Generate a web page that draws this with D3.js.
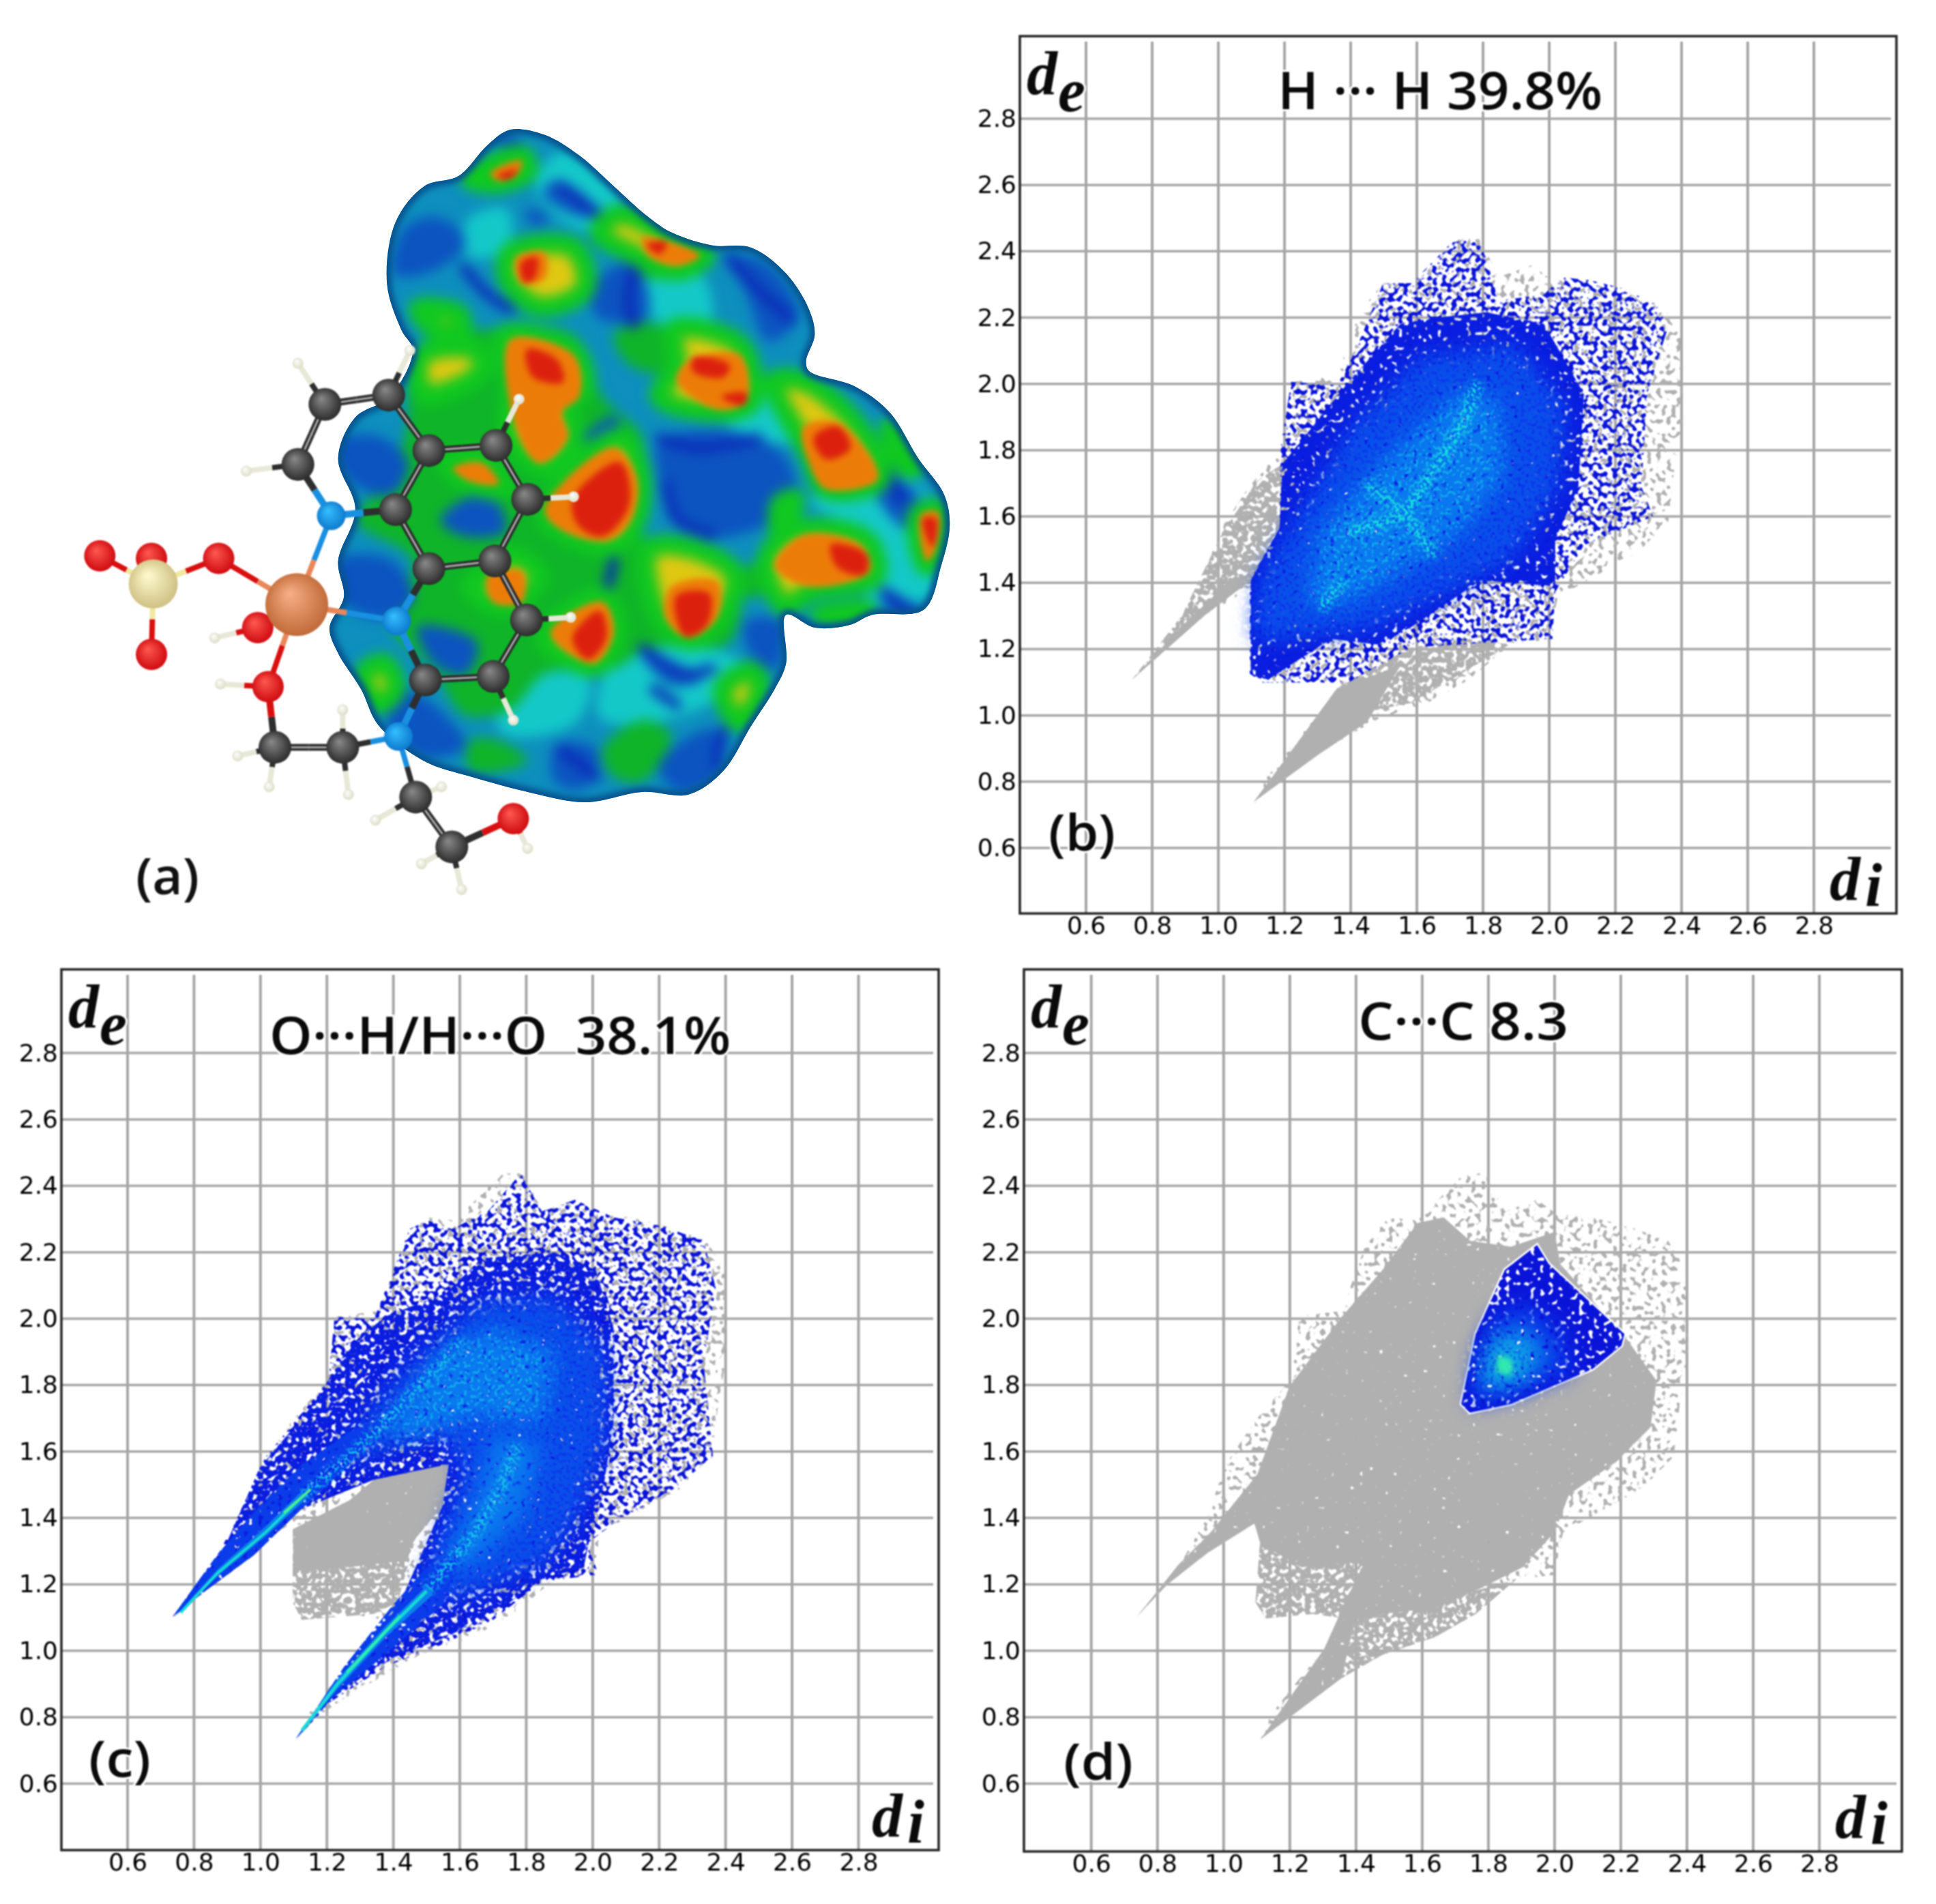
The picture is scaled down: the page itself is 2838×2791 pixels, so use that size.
<!DOCTYPE html>
<html><head><meta charset="utf-8">
<script src="https://cdn.jsdelivr.net/npm/d3@7"></script>
<style>html,body{margin:0;background:#fff}svg{display:block}</style></head>
<body><svg id="c" width="2838" height="2791" xmlns="http://www.w3.org/2000/svg"></svg>
<script>
// ---------- fingerprint data, (di, de) ----------
const tickValues=[0.6,0.8,1.0,1.2,1.4,1.6,1.8,2.0,2.2,2.4,2.6,2.8];
const fullOutline=[[.737,1.102],[.864,1.251],[.952,1.409],[1.005,1.559],[1.093,1.69],[1.199,1.813],[1.229,2.006],[1.357,2.024],[1.427,2.217],[1.498,2.305],[1.586,2.296],[1.727,2.437],[1.788,2.437],[1.85,2.323],[1.947,2.358],[2.008,2.314],[2.114,2.305],[2.22,2.279],[2.343,2.235],[2.396,2.147],[2.405,1.901],[2.378,1.743],[2.36,1.585],[2.264,1.488],[2.167,1.436],[2.026,1.357],[2.0,1.234],[2.017,1.23],[1.885,1.216],[1.762,1.111],[1.639,1.041],[1.48,.988],[1.357,.918],[1.251,.856],[1.163,.795],[1.111,.733],[1.146,.812],[1.216,.9],[1.304,1.006],[1.375,1.093],[1.269,1.111],[1.128,1.097],[1.096,1.146],[1.111,1.339],[1.093,1.383],[.952,1.295],[.829,1.199]];
const dSolid=[[.737,1.102],[.864,1.26],[.961,1.357],[1.102,1.532],[1.199,1.796],[1.357,2.006],[1.48,2.147],[1.586,2.288],[1.665,2.305],[1.744,2.235],[1.868,2.217],[2.0,2.261],[2.017,2.165],[2.22,1.936],[2.308,1.813],[2.29,1.673],[2.185,1.568],[2.044,1.471],[2.0,1.357],[1.903,1.251],[1.762,1.181],[1.639,1.129],[1.48,1.111],[1.392,1.076],[1.357,.918],[1.111,.733],[1.304,1.006],[1.375,1.164],[1.427,1.269],[1.234,1.251],[1.111,1.322],[1.093,1.383],[.952,1.295],[.829,1.199]];
const dMediumA=[[1.111,1.339],[1.427,1.269],[1.392,1.093],[1.269,1.111],[1.128,1.097],[1.096,1.146]];
const dMediumB=[[1.392,1.076],[1.48,1.111],[1.762,1.181],[1.885,1.216],[1.762,1.111],[1.639,1.041],[1.48,.988],[1.357,.918]];
const triOutline=[[1.947,2.222],[1.982,2.165],[2.211,1.954],[2.202,1.919],[2.114,1.848],[1.868,1.743],[1.744,1.717],[1.718,1.743],[1.762,1.954],[1.85,2.147]];
const triDeep=[[1.744,1.735],[1.885,1.77],[2.06,1.84],[2.026,1.971],[1.903,2.06],[1.815,2.007],[1.762,1.9]];
const triMid=[[1.78,1.787],[1.92,1.813],[1.99,1.9],[1.903,1.989],[1.815,1.936]];
const triCore=[[1.79,1.80],[1.885,1.81],[1.93,1.9],[1.85,1.95],[1.80,1.9]];
const triHot=[[1.824,1.84],[1.871,1.828],[1.871,1.875],[1.829,1.892]];

const bTailLeft=[[.739,1.108],[.89,1.302],[1.011,1.548],[1.116,1.706],[1.194,1.759],[1.194,1.583],[1.098,1.407],[.959,1.302]];
const bTailLeftSolid=[[.739,1.108],[.89,1.27],[1.05,1.42],[1.098,1.407],[.959,1.302]];
const bTailBottom=[[1.107,.739],[1.411,1.003],[1.584,1.038],[1.793,1.161],[1.88,1.214],[1.758,1.231],[1.584,1.205],[1.498,1.161],[1.359,1.082],[1.237,.915]];
const bTailBottomSolid=[[1.107,.739],[1.3,.88],[1.45,.98],[1.55,1.15],[1.359,1.082],[1.237,.915]];
const bSparse=[[1.22,2.006],[1.359,1.996],[1.411,2.093],[1.498,2.304],[1.584,2.304],[1.706,2.427],[1.784,2.436],[1.819,2.357],[1.845,2.251],[1.984,2.269],[2.036,2.322],[2.123,2.313],[2.227,2.287],[2.331,2.234],[2.357,2.164],[2.296,1.97],[2.279,1.689],[2.314,1.6],[2.105,1.513],[2.018,1.372],[2.01,1.231],[1.584,1.205],[1.393,1.099],[1.133,1.099],[1.095,1.126],[1.095,1.407],[1.185,1.565],[1.189,1.812]];
const bMedium=[[1.098,1.124],[1.098,1.407],[1.185,1.565],[1.194,1.759],[1.393,2.005],[1.55,2.181],[1.654,2.199],[1.81,2.216],[1.984,2.181],[2.105,1.97],[2.088,1.689],[2.018,1.53],[2.018,1.39],[1.793,1.407],[1.584,1.267],[1.48,1.214],[1.341,1.231],[1.15,1.108]];
const bDense=[[1.116,1.231],[1.133,1.407],[1.272,1.636],[1.411,1.864],[1.619,2.075],[1.897,2.11],[2.036,1.935],[2.018,1.689],[1.88,1.478],[1.671,1.372],[1.446,1.267],[1.237,1.249]];
const bMid=[[1.272,1.337],[1.307,1.548],[1.498,1.759],[1.723,1.97],[1.845,1.952],[1.862,1.724],[1.723,1.548],[1.498,1.407],[1.359,1.337]];
const bStreakA=[[1.307,1.32],[1.376,1.407]];
const bStreakB=[[1.393,1.548],[1.567,1.61],[1.654,1.741],[1.741,1.882],[1.784,2.005]];
const bStreakC=[[1.446,1.706],[1.584,1.583],[1.654,1.477]];

const cIsland=[[1.097,1.366],[1.268,1.453],[1.341,1.515],[1.485,1.55],[1.567,1.562],[1.548,1.436],[1.467,1.339],[1.413,1.146],[1.341,1.111],[1.124,1.093],[1.097,1.146]];
const cIslandSolid=[[1.097,1.366],[1.268,1.453],[1.341,1.515],[1.485,1.55],[1.567,1.562],[1.548,1.436],[1.467,1.339],[1.43,1.27],[1.25,1.25],[1.1,1.24]];
const cSparse=[[.735,1.102],[.871,1.287],[.934,1.409],[1.016,1.585],[1.205,1.813],[1.223,2.006],[1.341,1.998],[1.449,2.27],[1.503,2.296],[1.576,2.27],[1.684,2.323],[1.783,2.437],[1.847,2.323],[1.946,2.358],[2.063,2.305],[2.208,2.279],[2.334,2.235],[2.37,2.094],[2.334,1.866],[2.362,1.585],[2.244,1.488],[2.063,1.383],[1.982,1.322],[2.018,1.23],[1.847,1.208],[1.702,1.094],[1.558,1.023],[1.377,.953],[1.214,.848],[1.106,.733],[1.268,.935],[1.413,1.129],[1.548,1.436],[1.567,1.562],[1.341,1.515],[1.124,1.427],[.979,1.287],[.835,1.181]];
const cMedium=[[.735,1.102],[.889,1.304],[.997,1.55],[1.16,1.743],[1.268,1.919],[1.377,2.007],[1.558,2.077],[1.666,2.182],[1.883,2.2],[2.009,2.147],[2.063,1.971],[2.063,1.69],[2.036,1.515],[1.991,1.339],[1.973,1.251],[1.847,1.216],[1.702,1.111],[1.558,1.041],[1.377,.971],[1.214,.856],[1.106,.733],[1.268,.935],[1.413,1.129],[1.548,1.436],[1.567,1.562],[1.341,1.515],[1.124,1.427],[.979,1.287],[.835,1.181]];
const cDense=[[1.232,1.568],[1.431,1.831],[1.666,2.042],[1.883,2.059],[2.027,1.901],[2.027,1.638],[1.955,1.427],[1.847,1.269],[1.63,1.181],[1.485,1.164],[1.576,1.41],[1.63,1.55],[1.521,1.69],[1.377,1.62]];
const cMidA=[[1.558,1.269],[1.648,1.462],[1.702,1.655],[1.847,1.62],[1.792,1.41],[1.63,1.251]];
const cMidB=[[1.377,1.655],[1.558,1.901],[1.702,1.971],[1.883,1.901],[1.847,1.69],[1.63,1.708],[1.449,1.638]];
const cWedgeLeft=[[.735,1.102],[.87,1.29],[1.0,1.44],[1.124,1.56],[1.268,1.66],[1.377,1.70],[1.268,1.56],[1.124,1.427],[.979,1.287],[.835,1.181]];
const cWedgeBottom=[[1.106,.733],[1.25,.95],[1.40,1.14],[1.5,1.25],[1.6,1.28],[1.55,1.14],[1.377,.99],[1.214,.856]];
const cTipLeftEdge=[[.74,1.10],[.871,1.245],[1.016,1.375],[1.124,1.48],[1.14,1.46],[1.016,1.345],[.871,1.225]];
const cTipBottomEdge=[[1.105,.735],[1.232,.915],[1.377,1.075],[1.5,1.195],[1.52,1.17],[1.377,1.04],[1.232,.885]];
const cUpperLeft=[[1.124,1.462],[1.268,1.585],[1.377,1.69],[1.558,1.884],[1.612,1.936]];
const cUpperBottom=[[1.5,1.18],[1.648,1.357],[1.72,1.48],[1.774,1.62]];
const cCoreLeft=[[.76,1.115],[.871,1.234],[1.016,1.357],[1.124,1.462]];
const cCoreBottom=[[1.125,.76],[1.232,.9],[1.377,1.058],[1.5,1.18]];
const cHotLeft=[[1.07,1.415],[1.15,1.485]];
const cHotBottom=[[1.26,.935],[1.42,1.105]];

// ---------- surface picture (a), coordinates on a 0..1568 drawing grid ----------
const surfaceOutline=[[770,40],[830,50],[890,90],[950,150],[1010,210],[1050,240],[1120,265],[1190,270],[1250,320],[1290,390],[1300,440],[1285,490],[1290,510],[1370,540],[1430,590],[1480,680],[1525,750],[1535,810],[1520,890],[1490,975],[1400,985],[1360,1005],[1300,1010],[1250,985],[1250,1080],[1230,1130],[1190,1200],[1140,1290],[1080,1335],[1000,1330],[900,1350],[800,1330],[700,1300],[620,1270],[540,1200],[510,1130],[470,1060],[455,1010],[480,950],[470,880],[500,780],[470,680],[500,600],[560,560],[600,470],[580,430],[555,340],[570,220],[620,150],[680,130],[730,70]];
const cyanZones=[[[700,220],[760,200],[760,270],[700,280]],[[1000,300],[1100,330],[1110,430],[1030,410]],[[1300,760],[1400,720],[1480,740],[1500,940],[1400,950],[1390,830]],[[820,880],[930,880],[980,950],[930,930]],[[960,1070],[1130,1060],[1180,1100],[1050,1180],[930,1180]],[[860,90],[960,190],[900,230],[820,150]],[[1140,560],[1260,540],[1280,640],[1150,610]],[[760,1130],[900,1110],[880,1190],[760,1210]],[[660,560],[750,540],[760,590],[680,610]]];
const greenZones=[[[600,470],[720,430],[880,440],[930,560],[1000,640],[1000,830],[1130,880],[1170,920],[1150,1040],[1010,1050],[950,1090],[830,1100],[770,1170],[690,1180],[640,1100],[560,1000],[600,880],[500,800],[560,720],[590,620]],[[950,440],[1000,415],[1055,440],[1050,510],[980,500]],[[930,1250],[1000,1190],[1050,1220],[1000,1310],[950,1300]],[[700,1230],[750,1230],[800,1270],[700,1290]],[[1030,200],[1110,290],[1010,330],[930,200]],[[1160,910],[1220,880],[1215,940],[1170,950]]];
const blueZones=[[[590,230],[650,215],[690,260],[640,310],[570,320]],[[740,50],[790,60],[770,75]],[[850,140],[920,200],[900,210],[830,165]],[[800,195],[835,215],[810,225]],[[920,340],[980,300],[1010,370],[1000,410],[920,400]],[[1150,290],[1210,300],[1270,400],[1220,450],[1180,350]],[[1030,650],[1150,630],[1240,670],[1265,760],[1210,810],[1100,830],[1050,770]],[[470,650],[540,640],[590,690],[560,750],[490,720]],[[470,880],[560,880],[600,950],[560,990],[480,960]],[[650,800],[730,750],[760,820],[690,830]],[[610,1010],[710,1040],[690,1100],[640,1080]],[[570,1130],[620,1150],[690,1240],[620,1260],[560,1200]],[[850,1240],[920,1250],[900,1320],[850,1310]],[[1030,1280],[1120,1210],[1130,1290],[1070,1330]],[[1400,720],[1470,740],[1490,830],[1440,800]],[[1420,950],[1480,980],[1440,985]],[[1180,1000],[1240,1000],[1230,1090],[1190,1060]],[[890,650],[950,600],[960,640],[910,640]],[[1000,1060],[1100,1110],[1050,1120]]];
const blueStreaks=[[[690,310],[730,360],[770,390]],[[990,300],[975,370],[985,420]],[[1150,290],[1200,350],[1260,410]],[[860,150],[930,210]],[[1040,730],[1060,800],[1120,830]],[[1030,640],[1100,660],[1200,640]],[[950,880],[940,930]],[[1000,1050],[1080,1100],[1120,1090]],[[1020,1130],[1060,1160]],[[1140,1210],[1130,1280]],[[860,1250],[920,1300]],[[1420,680],[1450,760]],[[1420,940],[1470,975]]];
const yellowZones=[[[700,135],[790,90],[800,120],[750,145]],[[770,280],[880,270],[900,350],[820,385],[765,330]],[[925,240],[960,205],[1050,250],[1110,285],[1060,315],[980,280]],[[610,390],[680,400],[685,435],[640,430]],[[615,480],[710,470],[720,510],[620,555]],[[760,440],[880,470],[900,540],[870,580],[880,640],[830,700],[770,640],[770,540]],[[830,790],[960,640],[995,700],[990,800],[950,850],[870,830]],[[1055,430],[1170,460],[1190,570],[1130,590],[1030,560],[1060,500]],[[1230,530],[1280,530],[1370,610],[1415,720],[1320,740],[1290,670]],[[1430,620],[1480,690],[1460,700]],[[1480,790],[1520,780],[1515,860],[1495,890]],[[1215,880],[1270,820],[1390,840],[1405,910],[1290,940],[1250,970]],[[1010,860],[1060,850],[1160,905],[1130,1000],[1080,1035],[1030,990]],[[830,1030],[930,950],[955,1020],[920,1085],[870,1070]],[[1140,1130],[1190,1095],[1205,1120],[1170,1195]],[[515,1100],[550,1080],[570,1130],[540,1160]],[[1240,770],[1265,760],[1240,830]],[[660,690],[720,680],[760,740],[700,730]],[[740,900],[770,870],[820,910],[760,970],[700,930]],[[1310,985],[1390,975],[1370,990]]];
const orangeZones=[[[770,450],[880,480],[890,560],[860,590],[870,640],[820,690],[780,620]],[[830,780],[950,660],[990,720],[980,800],[940,840],[860,820]],[[1280,620],[1340,610],[1410,720],[1320,740],[1290,690]],[[1230,890],[1280,830],[1380,850],[1395,900],[1290,930]],[[1050,930],[1130,920],[1130,990],[1080,1030],[1040,990]],[[840,1020],[930,960],[950,1020],[915,1080]],[[1080,490],[1170,480],[1180,570],[1130,585],[1060,530]],[[780,290],[830,280],[830,330],[790,340]],[[1000,250],[1100,285],[1060,305],[1010,285]],[[730,910],[790,900],[790,960],[740,960]],[[670,700],[720,690],[750,730],[700,725]],[[1485,790],[1515,785],[1510,860],[1495,880]],[[735,125],[790,100],[780,130],[750,140]]];
const redZones=[[[800,470],[850,490],[860,530],[810,520]],[[880,760],[960,690],[975,770],[930,830],[890,810]],[[1300,640],[1340,620],[1360,660],[1320,680]],[[1060,950],[1115,945],[1110,1005],[1075,1025]],[[880,1030],[925,980],[935,1030],[905,1070]],[[1090,485],[1150,500],[1140,520],[1090,510]],[[790,300],[815,290],[810,330],[795,335]],[[1490,800],[1510,800],[1505,850]],[[1010,265],[1040,260],[1030,280]],[[1330,850],[1390,870],[1385,905],[1340,890]],[[1140,560],[1180,555],[1175,575]],[[750,130],[780,120],[765,135]]];
const atomX=[447,558,400,628,745,570,800,628,743,798,622,740,360,478,605,668,458,572,575,55,145,262,145,348,330,775,148,398,595,400,310,880,785,875,775,255,265,295,350,488,478,535,650,615,685,800];
const atomY=[575,557,692,665,655,780,760,895,880,995,1112,1105,1243,1243,1340,1437,792,997,1222,870,875,875,1062,1125,1010,1382,925,965,470,495,705,755,565,990,1190,1030,1120,1260,1320,1335,1170,1385,1320,1470,1520,1440];
const atomKind=["C","C","C","C","C","C","C","C","C","C","C","C","C","C","C","C","N","N","N","O","O","O","O","O","O","O","S","Cu","H","H","H","H","H","H","H","H","H","H","H","H","H","H","H","H","H","H"];
const atomBonds=[[0,1],[0,2],[1,3],[3,4],[3,5],[4,6],[5,7],[5,16],[6,8],[7,8],[7,17],[8,9],[9,11],[10,11],[10,17],[10,18],[2,16],[16,27],[17,27],[18,13],[13,12],[12,23],[23,27],[24,27],[21,27],[21,26],[19,26],[20,26],[22,26],[18,14],[14,15],[15,25],[1,28],[0,29],[2,30],[6,31],[4,32],[9,33],[11,34],[24,35],[23,36],[12,37],[12,38],[13,39],[13,40],[14,41],[14,42],[15,43],[15,44],[25,45]];

// ---------- style ----------
const kindStyle={C:{r:24,hi:"#8a8a8a",lo:"#1e1e1e",bond:"#2e2e2e"},N:{r:21,hi:"#35c0ff",lo:"#0870c8",bond:"#1a90e0"},O:{r:23,hi:"#ff5a50",lo:"#c80008",bond:"#d81010"},S:{r:36,hi:"#fffbd0",lo:"#c8b878",bond:"#f0e8a0"},Cu:{r:46,hi:"#f8b088",lo:"#b8602c",bond:"#e8875a"},H:{r:8,hi:"#ffffff",lo:"#d8d8c0",bond:"#e8e8d8"}};
const GRAY="#b0b0b0";
const svg=d3.select("#c");
svg.append("rect").attr("width",2838).attr("height",2791).attr("fill","#fff");
const defs=svg.append("defs");
function speckle(id,seed,t,blur,freq){
  const f=defs.append("filter").attr("id",id).attr("filterUnits","userSpaceOnUse").attr("x",0).attr("y",0).attr("width",2838).attr("height",2791).attr("color-interpolation-filters","sRGB");
  f.append("feTurbulence").attr("type","fractalNoise").attr("baseFrequency",freq||0.14).attr("numOctaves",1).attr("seed",seed).attr("result","n");
  f.append("feColorMatrix").attr("in","n").attr("type","matrix").attr("values",`0 0 0 0 0  0 0 0 0 0  0 0 0 0 0  16 0 0 0 ${-16*t}`).attr("result","m");
  let src="SourceGraphic";
  if(blur){f.append("feGaussianBlur").attr("in","SourceGraphic").attr("stdDeviation",blur).attr("result","s");src="s";}
  f.append("feComposite").attr("in",src).attr("in2","m").attr("operator","in");
}
speckle("spGray",3,.55);
speckle("spBlue",7,.51);
speckle("spMed",11,.42);
speckle("spFew",17,.34);
speckle("spRare",31,.23);
speckle("softDense",41,.33,14);
speckle("softMid",23,.40,18,0.2);
speckle("softLight",29,.56,16,0.2);
speckle("softCyan",37,.50,5,0.22);
function blurF(id,s){const f=defs.append("filter").attr("id",id).attr("x","-30%").attr("y","-30%").attr("width","160%").attr("height","160%").attr("color-interpolation-filters","sRGB");f.append("feGaussianBlur").attr("stdDeviation",s);}
blurF("soft",0.9);blurF("b3",3);
const fb=defs.append("filter").attr("id","patch").attr("filterUnits","userSpaceOnUse").attr("x",0).attr("y",0).attr("width",1500).attr("height",1400).attr("color-interpolation-filters","sRGB");
fb.append("feGaussianBlur").attr("stdDeviation",9);
const fb2=defs.append("filter").attr("id","patchS").attr("filterUnits","userSpaceOnUse").attr("x",0).attr("y",0).attr("width",1500).attr("height",1400).attr("color-interpolation-filters","sRGB");
fb2.append("feGaussianBlur").attr("stdDeviation",5);

// ---------- plot panels ----------
function panel(o){
  const x=d3.scaleLinear().domain([0.6,2.8]).range(o.xr);
  const y=d3.scaleLinear().domain([0.6,2.8]).range(o.yr);
  const root=svg.append("g").attr("filter","url(#soft)");
  const line=d3.line().x(d=>x(d[0])).y(d=>y(d[1]));
  const grid=root.append("g");
  grid.selectAll(".v").data(tickValues).join("line").attr("x1",d=>x(d)).attr("x2",d=>x(d)).attr("y1",o.t+8).attr("y2",o.b).attr("stroke","#a6a6a6").attr("stroke-width",4);
  grid.selectAll(".h").data(tickValues).join("line").attr("x1",o.l).attr("x2",o.r-8).attr("y1",d=>y(d)).attr("y2",d=>y(d)).attr("stroke","#a6a6a6").attr("stroke-width",3.5);
  const area=(pts,color,filter)=>{const p=root.append("path").attr("d",line(pts)+"Z").attr("fill",color);if(filter)p.attr("filter",`url(#${filter})`);return p;};
  const streak=(pts,color,w,filter)=>{const p=root.append("path").attr("d",line(pts)).attr("fill","none").attr("stroke",color).attr("stroke-width",w).attr("stroke-linecap","butt").attr("stroke-linejoin","round");if(filter)p.attr("filter",`url(#${filter})`);return p;};
  o.draw(area,streak);
  root.append("rect").attr("x",o.l).attr("y",o.t).attr("width",o.r-o.l).attr("height",o.b-o.t).attr("fill","none").attr("stroke","#222").attr("stroke-width",3.5);
  const fmt=d3.format(".1f");
  const ax=root.append("g").attr("transform",`translate(0,${o.b+3})`).call(d3.axisBottom(x).tickValues(tickValues).tickFormat(fmt).tickSize(0).tickPadding(1));
  const ay=root.append("g").attr("transform",`translate(${o.l-5},0)`).call(d3.axisLeft(y).tickValues(tickValues).tickFormat(fmt).tickSize(0).tickPadding(0));
  [ax,ay].forEach(a=>{a.select(".domain").remove();a.selectAll("text").attr("font-family","DejaVu Sans").attr("font-size",36).attr("fill","#000");});
  const lab=(s,xx,yy,fam,size,weight,style,len)=>{const t=root.append("text").attr("x",xx).attr("y",yy).attr("font-family",fam).attr("font-size",size).attr("font-weight",weight).attr("font-style",style).attr("fill","#0a0a0a").attr("stroke","#fff").attr("stroke-width",6).attr("paint-order","stroke").text(s);if(len)t.attr("textLength",len).attr("lengthAdjust","spacingAndGlyphs");return t;};
  const SER="Liberation Serif",SAN="Open Sans";
  lab("d",o.l+10,o.t+85,SER,90,700,"italic");
  lab("e",o.l+56,o.t+110,SER,90,700,"italic");
  lab("d",o.r-98,o.b-20,SER,90,700,"italic");
  lab("i",o.r-46,o.b-11,SER,90,700,"italic");
  lab(o.title,o.tx,o.ty,SAN,76,600,"normal",o.tl);
  lab(o.tag,o.gx,o.gy,SAN,74,600,"normal",o.gl);
}
panel({l:1495,r:2780,t:53,b:1339,xr:[1592,2659],yr:[1243,174],title:"H ··· H 39.8%",tx:1873,ty:160,tl:476,tag:"(b)",gx:1537,gy:1247,gl:98,
 draw(area,streak){
  area(fullOutline,GRAY,"spGray");
  area(bTailLeft,GRAY,"spMed");
  area(bTailLeftSolid,GRAY);
  area(bTailBottom,GRAY,"spMed");
  area(bTailBottomSolid,GRAY);
  area(bSparse,"#0a14d8","spBlue");
  area(bMedium,"#0a1ee0","spFew");
  area(bDense,"#0a3cea","softDense");
  area(bDense,"#0a50ea","softMid");
  area(bMid,"#0a78ee","softDense");
  area(bMid,"#10a8ee","softLight");
  streak(bStreakA,"#18e0e0",16,"softCyan");
  streak(bStreakB,"#18e0e0",18,"softCyan");
  streak(bStreakC,"#18d8e0",18,"softCyan");
 }});
panel({l:90,r:1376,t:1421,b:2712,xr:[187,1258.5],yr:[2614.5,1543.6],title:"O···H/H···O\u00a0\u00a038.1%",tx:395,ty:1545,tl:676,tag:"(c)",gx:130,gy:2605,gl:91,
 draw(area,streak){
  area(fullOutline,GRAY,"spGray");
  area(cIsland,GRAY,"spMed");
  area(cIslandSolid,GRAY,"spRare");
  area(cSparse,"#0a14d8","spBlue");
  area(cMedium,"#0a1ee0","spMed");
  area(cDense,"#0a3cea","softDense");
  area(cDense,"#0a50ea","softMid");
  area(cMidA,"#0a78ee","softDense");
  area(cMidB,"#0a78ee","softDense");
  area(cMidB,"#10a8ee","softLight");
  area(cWedgeLeft,"#0a3cea","spFew");
  area(cWedgeBottom,"#0a3cea","spFew");
  streak(cUpperLeft,"#18c0ea",16,"softCyan");
  streak(cUpperBottom,"#18c0ea",18,"softCyan");
  area(cTipLeftEdge,"#0a80ea");
  area(cTipBottomEdge,"#0a80ea");
  streak(cCoreLeft,"#18d8d8",4);
  streak(cCoreBottom,"#18d8d8",5);
  streak(cHotLeft,"#50f090",4);
  streak(cHotBottom,"#30f0b0",4);
 }});
panel({l:1501,r:2788,t:1421,b:2714,xr:[1599.7,2667],yr:[2614.5,1543.6],title:"C···C 8.3",tx:1991,ty:1524,tl:308,tag:"(d)",gx:1559,gy:2609,gl:102,
 draw(area,streak){
  area(fullOutline,GRAY,"spGray");
  area(dMediumA,GRAY,"spMed");
  area(dMediumB,GRAY,"spMed");
  area(dSolid,GRAY,"spRare");
  area(triOutline,"#fff").attr("stroke","#fff").attr("stroke-width",5);
  area(triOutline,"#0a14d8","spFew");
  area(triDeep,"#0a34e8","softDense");
  area(triMid,"#0a78ea","softDense");
  area(triCore,"#10b8e0","softMid");
  area(triHot,"#30e8b0").attr("filter","url(#b3)");
 }});

// ---------- surface + molecule (a) ----------
const gx=d3.scaleLinear().domain([0,1568]).range([100,1420]);
const gy=d3.scaleLinear().domain([0,1568]).range([160,1340]);
const smooth=d3.line().x(d=>gx(d[0])).y(d=>gy(d[1])).curve(d3.curveCatmullRomClosed.alpha(0.5));
const open=d3.line().x(d=>gx(d[0])).y(d=>gy(d[1])).curve(d3.curveCatmullRom);
defs.append("clipPath").attr("id","surf").append("path").attr("d",smooth(surfaceOutline));
const ga=svg.append("g");
const clip=ga.append("g").attr("clip-path","url(#surf)");
clip.append("path").attr("d",smooth(surfaceOutline)).attr("fill","#0e8fbe");
const pg=clip.append("g").attr("filter","url(#patch)");
const zone=(list,color,stroke,w,target)=>(target||pg).append("g").selectAll("path").data(list).join("path").attr("d",smooth).attr("fill",color).attr("stroke",stroke||"none").attr("stroke-width",w||0).attr("stroke-linejoin","round");
zone(cyanZones,"#14c8c8","#14c8c8",10);
zone(greenZones,"#0fb428");
zone(blueZones,"#0c54c0","#0c54c0",4);
pg.append("g").selectAll("path").data(blueStreaks).join("path").attr("d",open).attr("fill","none").attr("stroke","#0a28b8").attr("stroke-width",14).attr("stroke-linecap","round");
zone(yellowZones,"#dfc812","#10c820",30);
const pg2=clip.append("g").attr("filter","url(#patchS)");
zone(orangeZones,"#ec7c08",null,0,pg2);
zone(redZones,"#dc200e","#e02c0e",4,pg2);
clip.append("path").attr("d",smooth(surfaceOutline)).attr("fill","none").attr("stroke","#07508c").attr("stroke-width",14).attr("filter","url(#patchS)");
Object.keys(kindStyle).forEach(k=>{const g=defs.append("radialGradient").attr("id","atom"+k).attr("cx","50%").attr("cy","50%").attr("r","60%").attr("fx","38%").attr("fy","32%");g.append("stop").attr("offset","0%").attr("stop-color",kindStyle[k].hi);g.append("stop").attr("offset","100%").attr("stop-color",kindStyle[k].lo);});
const mol=ga.append("g").attr("filter","url(#soft)");
atomBonds.forEach(([a,b])=>{
  const xa=gx(atomX[a]),ya=gy(atomY[a]),xb=gx(atomX[b]),yb=gy(atomY[b]),mx=(xa+xb)/2,my=(ya+yb)/2;
  const bw=(atomKind[a]==="C"&&atomKind[b]!=="H")?10:8;
  mol.append("line").attr("x1",xa).attr("y1",ya).attr("x2",mx).attr("y2",my).attr("stroke",kindStyle[atomKind[a]].bond).attr("stroke-width",bw);
  mol.append("line").attr("x1",mx).attr("y1",my).attr("x2",xb).attr("y2",yb).attr("stroke",kindStyle[atomKind[b]].bond).attr("stroke-width",bw);
  if(atomKind[a]==="C"&&atomKind[b]==="C") mol.append("line").attr("x1",xa).attr("y1",ya).attr("x2",xb).attr("y2",yb).attr("stroke","#b8b8b8").attr("stroke-width",2.5);
});
const order=d3.range(atomX.length).sort((a,b)=>kindStyle[atomKind[a]].r-kindStyle[atomKind[b]].r);
mol.selectAll("circle").data(order).join("circle").attr("cx",i=>gx(atomX[i])).attr("cy",i=>gy(atomY[i])).attr("r",i=>kindStyle[atomKind[i]].r).attr("fill",i=>`url(#atom${atomKind[i]})`);
svg.append("text").attr("x",199).attr("y",1311).attr("font-family","Open Sans").attr("font-size",74).attr("font-weight",600).attr("fill","#111").attr("textLength",93).attr("lengthAdjust","spacingAndGlyphs").attr("filter","url(#soft)").text("(a)");
</script></body></html>
